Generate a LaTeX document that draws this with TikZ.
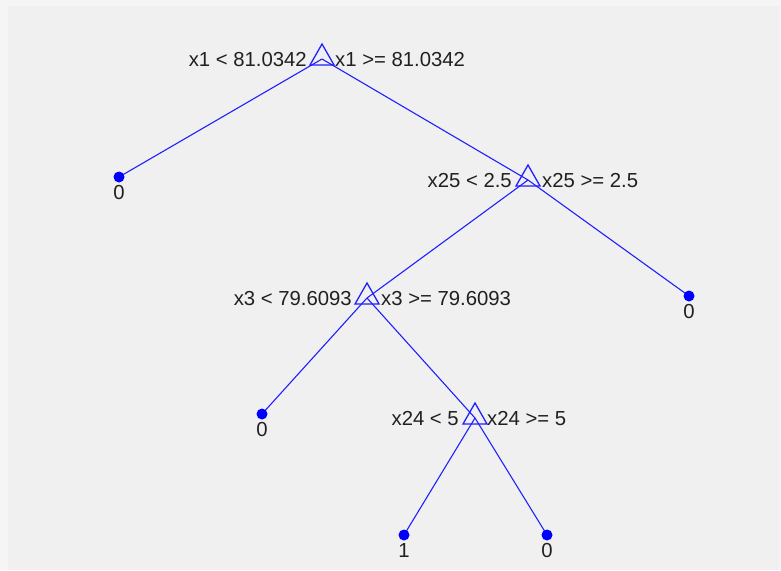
\documentclass[tikz,border=0pt]{standalone}
\usepackage{fontspec}
\setmainfont{Liberation Sans}
\definecolor{bgout}{HTML}{F5F5F5}
\definecolor{bgin}{HTML}{F0F0F0}
\definecolor{treeblue}{HTML}{2020FF}
\definecolor{txt}{HTML}{202020}
\begin{document}
\begin{tikzpicture}[x=1pt,y=-1pt,
  edge/.style={draw=treeblue,line width=1.1pt},
  branch/.style={draw=treeblue,line width=1.3pt,line join=miter},
  leafdot/.style={circle,fill=blue,inner sep=0pt,minimum size=11pt},
  lbl/.style={inner sep=0pt,text=txt,font=\fontsize{20.3}{24}\selectfont},
  lleft/.style={lbl,anchor=base east},
  lright/.style={lbl,anchor=base west},
  lleaf/.style={lbl,anchor=base}]
\useasboundingbox (0,0) rectangle (781,570);
\fill[bgout] (0,0) rectangle (781,570);
\fill[bgin] (8,6) rectangle (779,570);
% node points
\coordinate (n1) at (322,59);
\coordinate (n2) at (528,180);
\coordinate (n3) at (367,298);
\coordinate (n4) at (475,418);
\coordinate (l1) at (119,177);
\coordinate (l2) at (689,296);
\coordinate (l3) at (262,414);
\coordinate (l4) at (404,535);
\coordinate (l5) at (547,535);
% edges
\draw[edge] (n1) -- (l1);
\draw[edge] (n1) -- (n2);
\draw[edge] (n2) -- (n3);
\draw[edge] (n2) -- (l2);
\draw[edge] (n3) -- (l3);
\draw[edge] (n3) -- (n4);
\draw[edge] (n4) -- (l4);
\draw[edge] (n4) -- (l5);
% branch markers
\foreach \n in {n1,n2,n3,n4}{
  \draw[branch] ([shift={(0,-15)}]\n) -- ([shift={(-12,6)}]\n) -- ([shift={(12,6)}]\n) -- cycle;
}
% leaves
\foreach \n in {l1,l2,l3,l4,l5}{
  \node[leafdot] (d\n) at (\n) {};
}
% branch labels
\node[lleft]  (t1a) at ([shift={(-15,7.5)}]n1) {x1 < 81.0342};
\node[lright] (t1b) at ([shift={(13,7.5)}]n1) {x1 >= 81.0342};
\node[lleft]  (t2a) at ([shift={(-16,7.5)}]n2) {x25 < 2.5};
\node[lright] (t2b) at ([shift={(14,7.5)}]n2) {x25 >= 2.5};
\node[lleft]  (t3a) at ([shift={(-15,7.5)}]n3) {x3 < 79.6093};
\node[lright] (t3b) at ([shift={(14,7.5)}]n3) {x3 >= 79.6093};
\node[lleft]  (t4a) at ([shift={(-16,7.5)}]n4) {x24 < 5};
\node[lright] (t4b) at ([shift={(12,7.5)}]n4) {x24 >= 5};
% leaf labels
\node[lleaf] (c1) at ([shift={(0,22)}]l1) {0};
\node[lleaf] (c2) at ([shift={(0,22)}]l2) {0};
\node[lleaf] (c3) at ([shift={(0,22)}]l3) {0};
\node[lleaf] (c4) at ([shift={(0,22)}]l4) {1};
\node[lleaf] (c5) at ([shift={(0,22)}]l5) {0};
\end{tikzpicture}
\end{document}
